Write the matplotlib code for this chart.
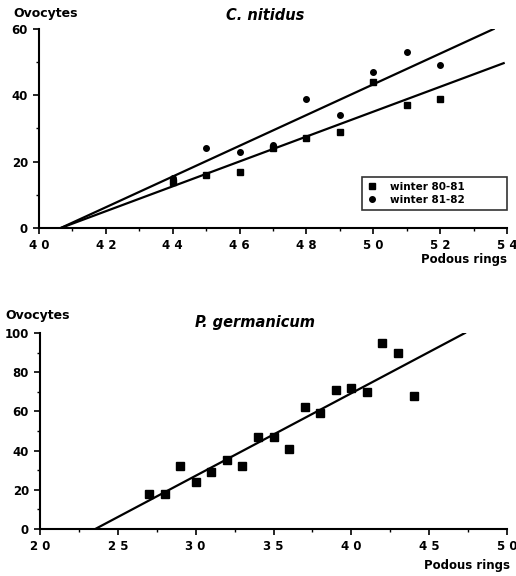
import matplotlib
matplotlib.use("Agg")
import matplotlib.pyplot as plt
from matplotlib.ticker import MultipleLocator, FixedLocator, FixedFormatter

plt.rcParams["font.family"] = ["DejaVu Sans"]
plt.rcParams["font.weight"] = "bold"

# C. nitidus
cn_rings = [44, 45, 46, 47, 48, 49, 50, 51, 52]
cn_w8081 = [14, 16, 17, 24, 27, 29, 44, 37, 39]
cn_w8182 = [15, 24, 23, 25, 39, 34, 47, 53, 49]
cn_fit8081_x = [40.65, 53.9]
cn_fit8081_y = [0, 49.7]
cn_fit8182_x = [40.65, 53.6]
cn_fit8182_y = [0, 60]
cn_xticks = [40, 42, 44, 46, 48, 50, 52, 54]

# P. germanicum
pg_rings = [27, 28, 29, 30, 31, 32, 33, 34, 35, 36, 37, 38, 39, 40, 41, 42, 43, 44]
pg_ovo = [18, 18, 32, 24, 29, 35, 32, 47, 47, 41, 62, 59, 71, 72, 70, 95, 90, 68]
pg_fit_x = [23.55, 47.3]
pg_fit_y = [0, 100]
pg_xticks = [20, 25, 30, 35, 40, 45, 50]


def spaced(v):
    return " ".join(str(v))


def style_axes(ax):
    for s in ("top", "right"):
        ax.spines[s].set_visible(False)
    for s in ("left", "bottom"):
        ax.spines[s].set_linewidth(1.5)
    ax.tick_params(which="major", direction="out", length=4, width=1.2,
                   labelsize=8.5, pad=4)
    ax.tick_params(which="minor", direction="out", length=2.5, width=1)
    for lab in ax.get_xticklabels() + ax.get_yticklabels():
        lab.set_fontweight("bold")


fig = plt.figure(figsize=(5.16, 5.76), dpi=100)

# top panel
ax1 = fig.add_axes([39 / 516, 1 - 228 / 576, 468 / 516, 199 / 576])
ax1.plot(cn_rings, cn_w8081, "s", color="black", markersize=5, label="winter 80-81")
ax1.plot(cn_rings, cn_w8182, "o", color="black", markersize=4, label="winter 81-82")
ax1.plot(cn_fit8081_x, cn_fit8081_y, color="black", linewidth=1.6)
ax1.plot(cn_fit8182_x, cn_fit8182_y, color="black", linewidth=1.6)
ax1.set_xlim(40, 54)
ax1.set_ylim(0, 60)
ax1.xaxis.set_major_locator(FixedLocator(cn_xticks))
ax1.xaxis.set_major_formatter(FixedFormatter([spaced(v) for v in cn_xticks]))
ax1.xaxis.set_minor_locator(MultipleLocator(1))
ax1.yaxis.set_major_locator(MultipleLocator(20))
ax1.yaxis.set_minor_locator(MultipleLocator(10))
style_axes(ax1)
leg = ax1.legend(loc="lower left", bbox_to_anchor=(0.69, 0.09, 0.31, 0.21),
                 mode="expand", frameon=True, fancybox=False, edgecolor="black",
                 fontsize=7.5, handletextpad=1.2, borderpad=0.5, labelspacing=0.3,
                 handlelength=1.0, borderaxespad=0)
leg.get_frame().set_linewidth(1.2)
for t in leg.get_texts():
    t.set_fontweight("bold")

fig.text(13 / 516, 1 - 14 / 576, "Ovocytes", fontsize=9, fontweight="bold",
         va="center", ha="left")
fig.text(265 / 516, 1 - 15 / 576, "C. nitidus", fontsize=10.5, fontweight="bold",
         style="italic", va="center", ha="center")
fig.text(507 / 516, 1 - 259 / 576, "Podous rings", fontsize=8.5, fontweight="bold",
         va="center", ha="right")

# bottom panel
ax2 = fig.add_axes([40 / 516, 1 - 529 / 576, 467 / 516, 196 / 576])
ax2.plot(pg_rings, pg_ovo, "s", color="black", markersize=5.5)
ax2.plot(pg_fit_x, pg_fit_y, color="black", linewidth=1.6)
ax2.set_xlim(20, 50)
ax2.set_ylim(0, 100)
ax2.xaxis.set_major_locator(FixedLocator(pg_xticks))
ax2.xaxis.set_major_formatter(FixedFormatter([spaced(v) for v in pg_xticks]))
ax2.xaxis.set_minor_locator(MultipleLocator(2.5))
ax2.yaxis.set_major_locator(MultipleLocator(20))
ax2.yaxis.set_minor_locator(MultipleLocator(10))
style_axes(ax2)

fig.text(5 / 516, 1 - 316 / 576, "Ovocytes", fontsize=9, fontweight="bold",
         va="center", ha="left")
fig.text(255 / 516, 1 - 323 / 576, "P. germanicum", fontsize=10.5, fontweight="bold",
         style="italic", va="center", ha="center")
fig.text(510 / 516, 1 - 566 / 576, "Podous rings", fontsize=8.5, fontweight="bold",
         va="center", ha="right")

fig.savefig("out.png", dpi=100)
